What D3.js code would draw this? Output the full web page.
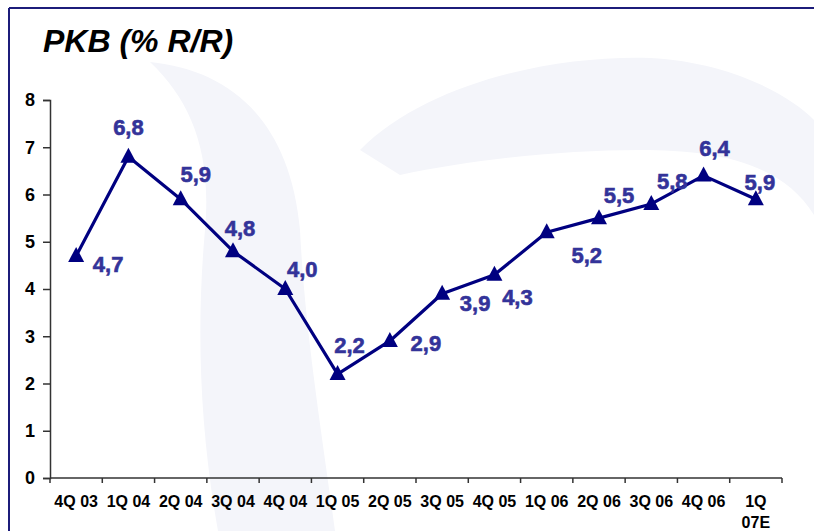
<!DOCTYPE html>
<html>
<head>
<meta charset="utf-8">
<script src="https://cdn.jsdelivr.net/npm/d3@7"></script>
<style>
  body { margin: 0; background: #fff; }
  svg { display: block; font-family: "Liberation Sans", Arial, sans-serif; }
</style>
</head>
<body>
<svg id="chart" width="814" height="531"></svg>
<script>
// Quarters on the x axis
const quarters = ['4Q 03', '1Q 04', '2Q 04', '3Q 04', '4Q 04', '1Q 05', '2Q 05',
  '3Q 05', '4Q 05', '1Q 06', '2Q 06', '3Q 06', '4Q 06', '1Q 07E'];

// GDP growth, % y/y
const gdp = [4.7, 6.8, 5.9, 4.8, 4.0, 2.2, 2.9, 3.9, 4.3, 5.2, 5.5, 5.8, 6.4, 5.9];

const yTicks = [0, 1, 2, 3, 4, 5, 6, 7, 8];

// label placement relative to each marker (dx, dy of text centre)
const labelOffsets = [
  [32, 9], [0, -29], [15, -25], [7, -23], [17, -20], [12, -29], [36, 3],
  [33, 10], [23, 23], [40, 23], [20, -23], [21, -22], [11, -27], [4, -17]
];

const svg = d3.select('#chart');
const margin = { left: 50, right: 32, top: 100, bottom: 53 };
const W = 814, H = 531;

// faint watermark in the background
const wm = svg.append('g').attr('fill', '#f4f5fa');
wm.append('path')
  .attr('d', 'M150,62 C230,70 290,120 300,230 C305,330 320,420 335,531 L218,531 C200,430 196,330 205,230 C212,150 190,100 150,62 Z');
wm.append('path')
  .attr('d', 'M360,150 C430,80 560,55 650,58 C730,62 790,95 814,120 L814,215 C780,160 710,150 640,150 C560,150 470,160 400,175 Z');

// frame lines on the top and left
svg.append('line')
  .attr('x1', 9).attr('x2', W).attr('y1', 8).attr('y2', 8)
  .attr('stroke', '#1c1c7a').attr('stroke-width', 2);
svg.append('line')
  .attr('x1', 9).attr('x2', 9).attr('y1', 8).attr('y2', H)
  .attr('stroke', '#1c1c7a').attr('stroke-width', 2);

// title
svg.append('text')
  .attr('x', 43).attr('y', 52)
  .attr('font-size', 32).attr('font-weight', 'bold').attr('font-style', 'italic')
  .attr('fill', '#000')
  .text('PKB (% R/R)');

const x = d3.scaleBand()
  .domain(quarters)
  .range([margin.left, W - margin.right])
  .padding(0);

const y = d3.scaleLinear()
  .domain([0, 8])
  .range([H - margin.bottom, margin.top]);

// y axis
const yAxis = svg.append('g')
  .attr('transform', `translate(${margin.left},0)`)
  .call(d3.axisLeft(y).tickValues(yTicks).tickSize(7).tickPadding(8));
yAxis.selectAll('text')
  .attr('font-size', 18).attr('font-weight', 'bold').attr('fill', '#000')
  .attr('font-family', '"Liberation Sans", Arial, sans-serif');
yAxis.select('.domain').attr('stroke', '#333').attr('stroke-width', 1.5);
yAxis.selectAll('.tick line').attr('stroke', '#333').attr('stroke-width', 1.5);

// x axis line + ticks at band edges
const xAxis = svg.append('g')
  .attr('transform', `translate(0,${y(0)})`);
xAxis.append('line')
  .attr('x1', margin.left).attr('x2', W - margin.right)
  .attr('stroke', '#333').attr('stroke-width', 1.5);
const edges = quarters.map(q => x(q)).concat([x.range()[1]]);
xAxis.selectAll('.tick-edge')
  .data(edges)
  .enter()
  .append('line')
  .attr('class', 'tick-edge')
  .attr('x1', d => d).attr('x2', d => d)
  .attr('y1', 0).attr('y2', 5)
  .attr('stroke', '#333').attr('stroke-width', 1.5);

const xLabels = xAxis.selectAll('.xlab')
  .data(quarters)
  .enter()
  .append('text')
  .attr('class', 'xlab')
  .attr('text-anchor', 'middle')
  .attr('font-size', 16).attr('font-weight', 'bold').attr('fill', '#000')
  .attr('transform', d => `translate(${x(d) + x.bandwidth() / 2},29)`);
xLabels.each(function(d) {
  const parts = d === '1Q 07E' ? ['1Q', '07E'] : [d];
  const t = d3.select(this);
  parts.forEach((p, i) => {
    t.append('tspan').attr('x', 0).attr('dy', i === 0 ? 0 : 21).text(p);
  });
});

// series line
const pts = gdp.map((v, i) => ({ q: quarters[i], v, i }));
const cx = d => x(d.q) + x.bandwidth() / 2;

svg.append('path')
  .datum(pts)
  .attr('fill', 'none')
  .attr('stroke', '#000080')
  .attr('stroke-width', 3.2)
  .attr('stroke-linejoin', 'round')
  .attr('d', d3.line().x(cx).y(d => y(d.v)));

// triangle markers
svg.selectAll('.marker')
  .data(pts)
  .enter()
  .append('path')
  .attr('class', 'marker')
  .attr('fill', '#000080')
  .attr('d', d => {
    const px = cx(d), py = y(d.v);
    return `M${px},${py - 9} L${px + 8},${py + 6} L${px - 8},${py + 6} Z`;
  });

// value labels
svg.selectAll('.val')
  .data(pts)
  .enter()
  .append('text')
  .attr('class', 'val')
  .attr('text-anchor', 'middle')
  .attr('dominant-baseline', 'central')
  .attr('font-size', 22).attr('font-weight', 'bold')
  .attr('fill', '#333399')
  .attr('stroke', '#333399').attr('stroke-width', 0.6)
  .attr('x', d => cx(d) + labelOffsets[d.i][0])
  .attr('y', d => y(d.v) + labelOffsets[d.i][1])
  .text(d => d.v.toFixed(1).replace('.', ','));
</script>
</body>
</html>
